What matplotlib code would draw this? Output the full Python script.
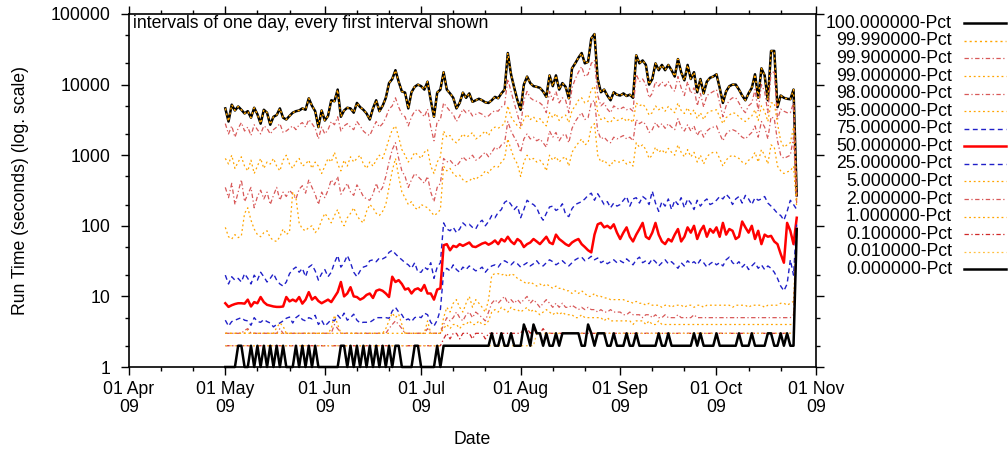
import matplotlib
matplotlib.use("Agg")
import matplotlib.pyplot as plt
import matplotlib.dates as mdates
from matplotlib.lines import Line2D
from matplotlib.ticker import LogLocator, FuncFormatter, NullFormatter
import pandas as pd

plt.rcParams["font.family"] = ["Liberation Sans", "DejaVu Sans"]
plt.rcParams["font.size"] = 12.7

# daily run-time percentiles (seconds), 01 May 2009 .. 26 Oct 2009
# one line per month: May, Jun, Jul, Aug, Sep, Oct
p100 = [
    4600, 3000, 5200, 4300, 4900, 4400, 3900, 4200, 3400, 4700, 3800, 2800, 4400, 4000, 2700, 3500, 3700, 4600, 3400, 3200, 3600, 4000, 4200, 4300, 4600, 4400, 6400, 5000, 4200, 2500, 4300,
    3100, 3600, 6000, 5800, 8500, 3500, 4300, 4700, 4600, 4000, 5500, 4800, 4400, 3900, 3200, 4600, 6000, 4200, 5000, 6500, 10500, 12000, 16000, 11000, 8000, 7700, 4600, 7800, 9300, 10000,
    9500, 8500, 11000, 6000, 3500, 7700, 8500, 15000, 8500, 7500, 6500, 4600, 5500, 7700, 6500, 7500, 5700, 6000, 6300, 6000, 5600, 5500, 6000, 6700, 6400, 7500, 8500, 28000, 14000, 9000, 6000,
    4400, 10000, 13000, 10500, 9500, 9300, 9000, 8000, 6700, 13500, 9500, 13500, 8500, 10500, 9300, 6400, 17000, 20000, 24000, 28000, 20000, 21000, 45000, 52000, 12000, 7800, 8500, 7000, 6000, 7800, 7200,
    7000, 7500, 6900, 7200, 6500, 26000, 20000, 22000, 19000, 10000, 12000, 20000, 16000, 19000, 16000, 19000, 16000, 13000, 23000, 15000, 11500, 19000, 12000, 15000, 7800, 12000, 7500, 11000, 12500, 13000,
    14000, 9000, 5500, 8000, 9500, 10000, 10000, 8500, 7000, 6000, 7500, 9000, 14000, 6500, 17000, 13500, 6000, 30000, 30000, 4800, 7000, 6500, 6300, 6200, 8500, 270,
]
# 99.99 % lies right on top of the maximum
p9999 = list(p100)
p999 = [
    2800, 2000, 2600, 1800, 2400, 2900, 2200, 2500, 1900, 2700, 2300, 2000, 2600, 2400, 2000, 2300, 2500, 2800, 2100, 2200, 2400, 2600, 2300, 2700, 2900, 2500, 3200, 2800, 2400, 1700, 2500,
    2000, 2300, 3000, 2700, 3500, 2200, 2600, 2800, 2500, 2300, 3000, 2600, 2200, 2000, 1900, 2400, 3000, 2500, 2800, 3400, 4500, 5000, 6500, 4800, 3800, 3500, 2600, 3500, 4200, 4500,
    4000, 3500, 4500, 2500, 1600, 3000, 3200, 5500, 4800, 4200, 3800, 3000, 3600, 4500, 4000, 4300, 3600, 3800, 4000, 3800, 3500, 3600, 4000, 4300, 4200, 4800, 5200, 12000, 8000, 5500, 3800,
    2600, 6000, 8000, 6500, 6000, 5800, 5500, 5000, 4000, 8000, 6000, 8000, 5500, 6500, 6000, 4000, 9000, 12000, 15000, 18000, 13000, 14000, 20000, 22000, 7000, 5000, 5500, 4500, 4000, 5000, 4600,
    4500, 4800, 4400, 4600, 4200, 14000, 11000, 12000, 10000, 6500, 7500, 11000, 9500, 11000, 9500, 11000, 9000, 8000, 13000, 9000, 7000, 11000, 7500, 9000, 5000, 7500, 4800, 7000, 7500, 8000,
    8500, 5500, 3500, 5000, 6000, 6500, 6500, 5500, 4500, 4000, 5000, 5500, 8500, 4200, 10000, 8000, 4000, 15000, 15000, 3200, 4500, 4200, 4000, 4000, 5500, 260,
]
p99 = [
    900, 750, 1000, 650, 800, 950, 700, 600, 850, 550, 700, 900, 650, 800, 750, 900, 700, 600, 850, 1000, 750, 650, 800, 900, 700, 750, 850, 650, 800, 700, 550,
    700, 900, 800, 1100, 750, 600, 850, 700, 950, 800, 900, 1000, 750, 650, 800, 700, 850, 1000, 900, 1200, 1700, 2300, 2600, 1800, 1200, 1000, 800, 900, 1100, 1000,
    900, 1100, 1200, 700, 550, 800, 950, 2200, 1800, 1900, 1600, 1500, 1700, 2000, 1800, 1900, 2100, 1700, 1800, 2000, 2200, 1900, 2300, 2500, 2400, 2600, 2800, 5000, 3500, 3000, 2600,
    2400, 3200, 3800, 3200, 3500, 3000, 3300, 2900, 2600, 4000, 3400, 3900, 3100, 3500, 3700, 2900, 4300, 5000, 6000, 6500, 5500, 5800, 8500, 9500, 4000, 3200, 3400, 3000, 2900, 3400, 3100,
    3200, 3400, 3000, 3300, 2900, 5500, 5000, 5300, 4700, 3700, 4000, 5000, 4400, 4800, 4200, 4900, 4400, 4000, 5500, 4300, 3900, 4700, 3800, 4400, 3300, 4000, 3200, 3900, 4200, 4300,
    4400, 3500, 2800, 3400, 3700, 4000, 3900, 3500, 3200, 3000, 3300, 3600, 4400, 3100, 5000, 4200, 3000, 5500, 5500, 2800, 1600, 1300, 1400, 1500, 2500, 230,
]
p98 = [
    350, 250, 400, 200, 300, 450, 220, 280, 350, 180, 260, 320, 240, 300, 200, 270, 350, 230, 300, 260, 320, 280, 240, 330, 370, 290, 450, 350, 280, 200, 300,
    250, 320, 450, 380, 500, 280, 330, 400, 300, 270, 380, 320, 260, 240, 230, 280, 400, 300, 350, 500, 800, 1200, 1500, 900, 600, 500, 350, 450, 550, 500,
    450, 400, 500, 300, 220, 350, 400, 900, 800, 850, 750, 700, 800, 950, 850, 900, 1000, 850, 900, 1000, 1100, 950, 1100, 1300, 1200, 1400, 1500, 3000, 2200, 1800, 1500,
    1100, 1700, 2000, 1700, 1800, 1600, 1700, 1500, 1300, 2200, 1800, 2100, 1600, 1900, 2000, 1500, 2400, 3000, 3500, 4000, 3200, 3400, 5500, 6000, 2200, 1700, 1800, 1600, 1500, 1800, 1700,
    1800, 1900, 1700, 1800, 1600, 3200, 2800, 3000, 2700, 2100, 2300, 2900, 2500, 2800, 2400, 2800, 2500, 2300, 3300, 2500, 2200, 2700, 2200, 2600, 1900, 2300, 1800, 2200, 2400, 2500,
    2600, 2000, 1600, 2000, 2200, 2300, 2200, 2000, 1800, 1700, 1900, 2100, 2600, 1800, 3000, 2500, 1700, 3500, 3300, 1600, 1000, 900, 950, 1000, 1800, 200,
]
p95 = [
    95, 70, 65, 75, 68, 72, 150, 180, 120, 90, 75, 70, 80, 85, 68, 62, 60, 70, 90, 75, 82, 300, 250, 110, 90, 85, 95, 100, 80, 90, 120,
    150, 130, 110, 140, 170, 120, 100, 130, 150, 180, 140, 120, 110, 160, 200, 180, 150, 140, 160, 200, 350, 600, 900, 500, 300, 250, 200, 220, 180, 170,
    200, 190, 180, 160, 140, 150, 170, 700, 600, 650, 550, 500, 520, 450, 420, 430, 480, 450, 500, 520, 600, 560, 650, 700, 680, 800, 900, 1700, 1200, 900, 750,
    500, 800, 1000, 850, 900, 800, 850, 750, 600, 1000, 850, 950, 800, 900, 950, 700, 1100, 1300, 1500, 1700, 1400, 1500, 2500, 2800, 1000, 800, 850, 750, 700, 850, 800,
    800, 850, 750, 800, 700, 1500, 1300, 1400, 1200, 900, 1000, 1300, 1100, 1200, 1050, 1250, 1100, 1000, 1400, 1100, 950, 1200, 950, 1100, 800, 1000, 750, 950, 1050, 1100,
    1100, 900, 700, 850, 950, 1000, 950, 900, 800, 750, 850, 900, 1100, 800, 1200, 1000, 750, 1400, 1300, 700, 600, 550, 580, 600, 700, 180,
]
p75 = [
    20, 15, 19, 17, 18, 16, 21, 18, 15, 20, 17, 22, 19, 16, 18, 21, 17, 15, 14, 16, 21, 24, 26, 22, 25, 19, 26, 28, 23, 17, 21,
    24, 19, 22, 30, 38, 26, 30, 38, 30, 22, 19, 23, 26, 27, 32, 33, 31, 35, 34, 36, 42, 45, 40, 36, 33, 30, 28, 25, 30, 22,
    22, 26, 24, 30, 18, 26, 30, 110, 90, 85, 95, 80, 90, 110, 100, 105, 95, 90, 110, 120, 100, 115, 140, 130, 155, 170, 215, 230, 200, 170, 190,
    130, 170, 230, 210, 200, 180, 140, 120, 150, 185, 190, 165, 175, 205, 145, 135, 175, 200, 210, 220, 240, 270, 290, 230, 285, 240, 200, 220, 180, 210, 190,
    200, 230, 260, 190, 240, 250, 210, 260, 240, 200, 310, 210, 160, 220, 190, 240, 170, 230, 200, 250, 180, 240, 210, 170, 230, 190, 220, 240, 200, 210,
    230, 260, 240, 280, 250, 200, 240, 260, 210, 270, 240, 200, 250, 230, 240, 260, 210, 190, 170, 150, 140, 120, 160, 230, 200, 170,
]
p50 = [
    8.0, 7.1, 7.5, 7.8, 8.0, 8.0, 7.9, 9.0, 7.2, 8.3, 8.0, 9.8, 8.3, 7.6, 7.4, 7.2, 7.1, 7.1, 7.2, 9.8, 8.5, 9.0, 8.5, 9.8, 7.9, 9.0, 11.5, 9.0, 9.8, 8.6, 8.0,
    8.5, 9.0, 8.3, 9.8, 11.5, 16, 10, 11, 13.5, 10, 9.8, 9.0, 9.5, 10.5, 11, 9.5, 12, 12.5, 12, 11, 9.8, 19, 16, 17, 15, 12.5, 13, 11, 12.5, 13,
    12, 14.5, 11, 11, 9, 12.5, 13, 53, 55, 45, 52, 50, 55, 52, 55, 58, 51, 50, 53, 56, 58, 54, 57, 62, 55, 65, 60, 70, 60, 55, 65,
    60, 50, 55, 58, 65, 60, 55, 62, 70, 58, 55, 75, 65, 60, 55, 52, 58, 62, 65, 55, 50, 45, 42, 75, 105, 110, 95, 100, 92, 105, 80,
    65, 80, 95, 70, 60, 75, 90, 110, 70, 65, 80, 110, 75, 60, 55, 65, 60, 75, 90, 60, 70, 95, 80, 100, 65, 85, 100, 70, 90, 80,
    95, 70, 110, 75, 90, 85, 65, 70, 115, 95, 80, 100, 65, 85, 55, 75, 70, 72, 60, 55, 40, 30, 110, 85, 55, 130,
]
p25 = [
    4.6, 3.8, 4.4, 4.6, 4.8, 5.0, 4.6, 4.5, 3.9, 5.0, 4.4, 4.3, 4.7, 4.4, 4.2, 3.7, 4.0, 4.2, 4.5, 4.9, 5.1, 4.2, 5.0, 5.4, 4.7, 4.5, 5.0, 4.8, 5.4, 4.0, 4.6,
    3.8, 4.2, 4.7, 4.5, 5.4, 4.8, 5.8, 4.6, 5.0, 5.6, 4.6, 4.2, 4.3, 4.3, 4.3, 4.6, 5.0, 5.0, 5.0, 5.0, 4.9, 6.2, 7.0, 6.0, 5.5, 4.6, 4.8, 4.4, 5.0, 5.2,
    5.0, 5.8, 5.5, 4.3, 3.8, 4.6, 6.5, 22, 25, 23, 28, 24, 22, 26, 24, 27, 25, 23, 24, 26, 22, 25, 27, 28, 26, 30, 32, 30, 28, 31, 29,
    26, 28, 30, 27, 29, 32, 28, 27, 30, 33, 31, 28, 30, 32, 29, 27, 30, 33, 35, 36, 32, 34, 37, 33, 35, 30, 32, 29, 31, 33, 30,
    32, 30, 34, 31, 28, 33, 36, 30, 32, 29, 34, 31, 27, 30, 33, 29, 31, 28, 25, 30, 27, 32, 29, 31, 28, 33, 30, 26, 29, 31,
    28, 30, 27, 33, 36, 30, 28, 31, 26, 29, 24, 27, 30, 25, 28, 24, 27, 25, 22, 18, 14, 12, 15, 33, 20, 110,
]
p5 = [
    3, 3, 3, 3, 3, 3, 3, 3.4, 3, 3, 3, 3, 3, 3, 3, 3, 3.6, 4.2, 3.8, 3, 3, 3, 3, 3, 3, 3, 3, 3, 3, 3, 3,
    3, 3, 3.5, 5.4, 4, 3, 3, 3, 3, 3, 3, 3, 3, 3, 3, 3, 3, 3, 3, 3.5, 4.5, 5.8, 5, 5.6, 4, 3, 3, 3, 3, 3,
    3, 3, 4.5, 3, 3, 3, 3, 5, 7, 6, 8, 9, 7, 6, 8, 10, 7, 9, 8, 7, 6, 9, 20, 21, 21, 20, 21, 19, 21, 20, 18,
    17, 16, 15, 16, 15, 14, 15, 14, 15, 14, 13, 14, 13, 13, 12, 12, 11, 12, 11, 12, 11, 10, 10, 11, 10, 10, 9.5, 9.5, 9, 9, 9,
    9, 9, 8.5, 8.5, 8, 8.5, 8, 8, 7.5, 8, 7.5, 7.5, 7.5, 7, 7.5, 7.5, 7, 7.5, 7.5, 7.5, 7, 7.5, 7.5, 7, 7.5, 7.5, 7, 7.5, 7.5, 7.5,
    7.5, 7.5, 7.5, 7.5, 7.5, 7, 7.5, 7.5, 7.5, 7.5, 7, 7.5, 7.5, 7.5, 7.5, 7, 7.5, 7.5, 7.5, 7.5, 8, 8, 7.5, 8, 8.5, 100,
]
p2 = [
    3, 3, 3, 3, 3, 3, 3.3, 3.5, 3, 3, 3, 3, 3, 3, 3, 3, 3, 3.5, 3, 3, 3, 3, 3, 3, 3, 3, 3, 3, 3, 3, 3,
    3, 3, 3, 4, 3.5, 3, 3, 3, 3, 3, 3, 3, 3, 3, 3, 3, 3, 3, 3, 3, 3.5, 4, 4.5, 4, 3.5, 3, 3, 3, 3, 3,
    3, 3, 3.5, 3, 3, 3, 3, 4, 5, 4.5, 5, 6, 5, 4.5, 5.5, 6, 5, 6, 5.5, 5, 4.5, 6, 8, 9, 8, 9, 10, 8, 9, 8, 9,
    8, 9, 10, 8, 9, 8, 7, 8, 9, 8, 7, 8, 7, 8, 7, 7, 7.5, 7, 6.5, 7, 6.5, 7, 6.5, 6.5, 6, 6.5, 6, 6, 6.5, 6, 6,
    6, 5.5, 5.5, 6, 5.5, 5.5, 5.5, 5, 5.5, 5.5, 5, 5.5, 5, 5, 5.5, 5, 5, 5, 5.5, 5, 5, 5, 5, 5.5, 5, 5, 5, 5, 5, 5,
    5, 5, 5, 5, 5, 5, 5, 5, 5, 5, 5, 5, 5, 5, 5, 5, 5, 5, 5, 5, 5, 5, 5, 5, 5.5, 95,
]
p1 = (
    [3] * 31
    + [3] * 30
    + [3, 3, 3, 3, 3, 3, 3, 3.5, 4, 3.5, 4, 4, 3.5, 4, 4, 4.5, 4, 4, 4.5, 4, 4, 4.5, 6, 6.5, 6, 7, 6.5, 6, 7, 6.5, 6.5]
    + [6, 6.5, 7, 6, 6.5, 6, 5.5, 6, 6.5, 6, 5.5, 6, 5.5, 6, 5.5, 5.5, 5.5, 5, 5, 5.5, 5, 5, 5, 5, 5, 5, 4.5, 5, 4.5, 4.5, 4.5]
    + [4.5, 4.5, 4.5, 4.5, 4, 4.5, 4.5, 4.5, 4, 4.5, 4, 4, 4.5, 4, 4, 4, 4, 4, 4, 4, 4, 4, 4, 4, 4, 4, 4, 4, 4, 4]
    + [4] * 25 + [95]
)
p01 = (
    [2] * 31
    + [2] * 30
    + [2] * 7 + [2.5, 3, 2.5, 3, 3, 2.5, 3, 3, 3, 2.5, 3, 3, 3, 2.5] + [3] * 10
    + [3, 3.5, 3.5, 3, 3.5, 3, 3, 3.5, 3, 3] + [3] * 21
    + [3] * 30
    + [3] * 25 + [93]
)
p001 = (
    [2] * 31
    + [2] * 30
    + [2] * 31
    + [2] * 5 + [3] * 26
    + [3] * 30
    + [3] * 25 + [93]
)
p0 = [
    1, 1, 1, 1, 2, 2, 1, 1, 2, 1, 2, 1, 2, 1, 2, 1, 2, 1, 2, 1, 1, 1, 2, 1, 2, 1, 2, 1, 2, 1, 1,
    1, 1, 1, 1, 1, 2, 2, 1, 2, 1, 2, 1, 2, 1, 2, 1, 2, 1, 2, 1, 2, 1, 2, 2, 1, 1, 1, 1, 2, 2,
    1, 1, 1, 1, 1, 2, 1, 2, 2, 2, 2, 2, 2, 2, 2, 2, 2, 2, 2, 2, 2, 2, 3, 2, 2, 3, 2, 2, 3, 2, 2,
    2, 4, 3, 2, 4, 3, 3, 2, 3, 2, 2, 3, 2, 3, 3, 3, 3, 3, 3, 2, 2, 4, 3, 2, 3, 3, 3, 2, 2, 3, 2,
    2, 2, 3, 2, 2, 3, 2, 2, 2, 2, 2, 2, 3, 2, 2, 3, 2, 2, 2, 2, 2, 2, 2, 3, 2, 3, 2, 2, 2, 2,
    3, 2, 2, 2, 2, 2, 2, 3, 2, 2, 2, 3, 2, 2, 2, 2, 3, 3, 2, 2, 3, 2, 3, 2, 2, 90,
]

days = pd.date_range("2009-05-01", periods=len(p100), freq="D")

ORANGE = "#FFA500"
PINK = "#D85858"
DOT = (0, (1.5, 2.2))
DASHDOT = (0, (3.5, 2, 1, 2))
DASH = (0, (3.5, 2.5))

series = [
    ("100.000000-Pct", p100, dict(color="black", lw=1.8, ls="-")),
    ("99.990000-Pct", p9999, dict(color=ORANGE, lw=1.0, ls=DOT)),
    ("99.900000-Pct", p999, dict(color=PINK, lw=0.9, ls=DASHDOT)),
    ("99.000000-Pct", p99, dict(color=ORANGE, lw=0.9, ls=DOT)),
    ("98.000000-Pct", p98, dict(color=PINK, lw=0.9, ls=DASHDOT)),
    ("95.000000-Pct", p95, dict(color=ORANGE, lw=0.9, ls=DOT)),
    ("75.000000-Pct", p75, dict(color="#2020C8", lw=1.0, ls=DASH)),
    ("50.000000-Pct", p50, dict(color="#FF0000", lw=1.8, ls="-")),
    ("25.000000-Pct", p25, dict(color="#2020C8", lw=1.0, ls=DASH)),
    ("5.000000-Pct", p5, dict(color=ORANGE, lw=0.9, ls=DOT)),
    ("2.000000-Pct", p2, dict(color=PINK, lw=0.9, ls=DASHDOT)),
    ("1.000000-Pct", p1, dict(color=ORANGE, lw=0.9, ls=DOT)),
    ("0.100000-Pct", p01, dict(color="#D02828", lw=0.9, ls=DASHDOT)),
    ("0.010000-Pct", p001, dict(color="#FFC040", lw=0.9, ls=DOT)),
    ("0.000000-Pct", p0, dict(color="black", lw=1.8, ls="-")),
]

fig = plt.figure(figsize=(10.08, 4.49), dpi=100)
ax = fig.add_axes([129 / 1008, 1 - 367 / 449, 687 / 1008, 353 / 449])

for label, vals, style in series:
    ax.plot(days, vals, clip_on=False, **style)

ax.set_yscale("log")
ax.set_ylim(1, 100000)
ax.set_xlim(pd.Timestamp("2009-04-01"), pd.Timestamp("2009-11-01"))

ax.yaxis.set_major_locator(LogLocator(base=10))
ax.yaxis.set_minor_locator(LogLocator(base=10, subs=[2, 5]))
ax.yaxis.set_major_formatter(FuncFormatter(lambda v, _: f"{v:.0f}"))
ax.yaxis.set_minor_formatter(NullFormatter())

ax.xaxis.set_major_locator(mdates.MonthLocator())
ax.xaxis.set_minor_locator(mdates.DayLocator(bymonthday=[11, 21]))
ax.xaxis.set_major_formatter(mdates.DateFormatter("%d %b\n%y"))

ax.tick_params(which="both", direction="out", top=True, right=True, width=1)
ax.tick_params(which="major", length=6)
ax.tick_params(which="minor", length=3)
ax.tick_params(axis="x", pad=4)
ax.tick_params(axis="y", pad=7)
for lbl in ax.get_xticklabels():
    lbl.set_linespacing(1.1)
for sp in ax.spines.values():
    sp.set_linewidth(1.2)

ax.set_xlabel("Date", labelpad=11)
ax.set_ylabel("Run Time (seconds) (log. scale)", labelpad=16)

fig.text(133 / 1008, 1 - 23 / 449, "intervals of one day, every first interval shown",
         ha="left", va="center")

# key outside on the right, gnuplot style (text right-aligned, sample after it)
for k, (label, vals, style) in enumerate(series):
    yk = 1 - (23.3 + 17.57 * k) / 449
    fig.text(952 / 1008, yk, label, ha="right", va="center")
    fig.add_artist(Line2D([964 / 1008, 1006 / 1008], [yk, yk],
                          transform=fig.transFigure, **style))

fig.savefig("out.png", dpi=100)
